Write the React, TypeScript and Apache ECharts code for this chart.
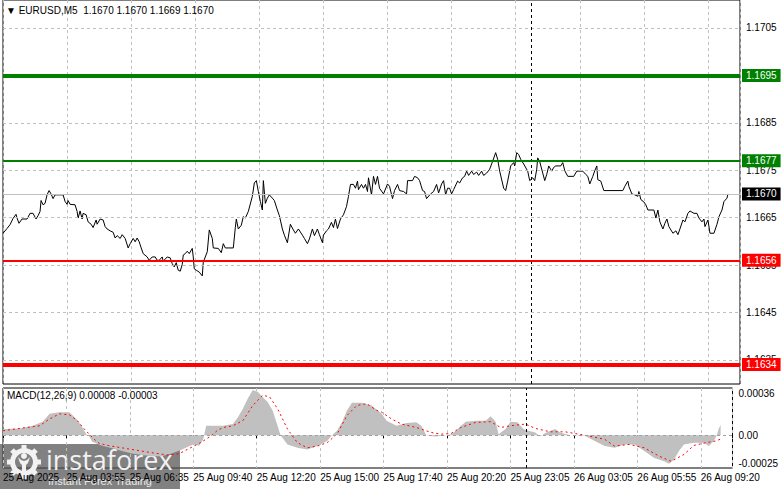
import React, { useEffect, useRef } from "react";
import * as echarts from "echarts";

const FONT = "Liberation Sans";

// header line
const symbolName = "EURUSD,M5";
const lastOhlc = [1.167, 1.167, 1.1669, 1.167];

// time axis, one label every 32 bars
const timeLabels = [
  "25 Aug 2025",
  "25 Aug 03:55",
  "25 Aug 06:35",
  "25 Aug 09:40",
  "25 Aug 12:20",
  "25 Aug 15:00",
  "25 Aug 17:40",
  "25 Aug 20:20",
  "25 Aug 23:05",
  "26 Aug 03:05",
  "26 Aug 05:55",
  "26 Aug 09:20",
];

// price scale
const priceTicks = [1.1635, 1.1645, 1.1655, 1.1665, 1.1675, 1.1685, 1.1695, 1.1705];
const resistanceLevels = [1.1695, 1.1677];
const supportLevels = [1.1656, 1.1634];
const lastClose = 1.167;
const markerBar = 264;

// close price per bar index
const closeLine: [number, number][] = [
  [0, 1.16617], [2, 1.16627], [3.5, 1.16635], [5, 1.16648], [6.5, 1.16657], [7, 1.16649], [8, 1.16638],
  [9.5, 1.16647], [12, 1.16647], [13.5, 1.16659], [15, 1.16659], [16.5, 1.16647], [17.5, 1.16654],
  [18.5, 1.16663], [19, 1.16686], [20, 1.16677], [21, 1.1668], [22, 1.16698], [23, 1.16707], [24, 1.167],
  [25, 1.1669], [26, 1.16698], [30, 1.16698], [31, 1.16684], [32, 1.16678], [32.5, 1.16686], [33.5, 1.16678],
  [36, 1.16677], [37, 1.16663], [37.5, 1.16649], [38.5, 1.16664], [39.5, 1.16647], [40, 1.16659],
  [41.5, 1.16656], [42.5, 1.16641], [44, 1.16636], [45, 1.16629], [46.5, 1.16645], [47, 1.16636],
  [48.5, 1.16647], [50, 1.16645], [51, 1.16631], [52, 1.16626], [53.5, 1.16622], [55, 1.16619],
  [56, 1.16607], [57, 1.16612], [58.5, 1.16606], [59.5, 1.16614], [61, 1.16606], [62.5, 1.16586],
  [63.5, 1.16595], [65, 1.16606], [66, 1.16599], [67, 1.16607], [68, 1.16599], [69, 1.16586], [70, 1.16574],
  [72, 1.16567], [73, 1.1656], [74.5, 1.16567], [76, 1.16567], [77, 1.1656], [78, 1.1656], [79.5, 1.16567],
  [80, 1.16558], [82, 1.16567], [83.5, 1.16565], [84.5, 1.16553], [85.5, 1.16546], [86.5, 1.16555],
  [87.5, 1.16539], [88.5, 1.16537], [89.5, 1.16551], [90, 1.16571], [91, 1.16574], [92, 1.16579],
  [93, 1.16574], [94.5, 1.16585], [95, 1.16567], [95.5, 1.16542], [96.5, 1.16539], [98, 1.16535],
  [99.5, 1.16527], [100, 1.16556], [102, 1.16578], [103, 1.16624], [104.5, 1.16606], [105, 1.16586],
  [107.5, 1.16585], [109, 1.16576], [110, 1.16595], [111, 1.16586], [115, 1.16586], [116, 1.16629],
  [116.5, 1.16647], [117.5, 1.16626], [119, 1.16634], [120, 1.16652], [121, 1.16649], [122.5, 1.16663],
  [124.5, 1.16695], [125.5, 1.16723], [126.5, 1.16728], [127.5, 1.16705], [128.5, 1.16684], [129.5, 1.16666],
  [130, 1.16728], [131, 1.1668], [132, 1.16691], [133, 1.16698], [134.5, 1.16691], [135.5, 1.16686],
  [137, 1.16666], [138, 1.16654], [139.5, 1.16626], [140.5, 1.16613], [142, 1.16597], [143.5, 1.16636],
  [145, 1.16624], [146, 1.16617], [147.5, 1.16626], [149.5, 1.16613], [150.5, 1.16606], [152, 1.16595],
  [153, 1.16605], [154.5, 1.16626], [155.5, 1.16612], [157, 1.16626], [158, 1.16614], [159.5, 1.16597],
  [160, 1.16613], [161.5, 1.16622], [162.5, 1.16626], [164, 1.1664], [165, 1.16629], [166, 1.16647],
  [167, 1.16627], [168.5, 1.16647], [170, 1.16656], [171.5, 1.16673], [172.5, 1.16695], [173.5, 1.1672],
  [175, 1.1672], [176, 1.16712], [177, 1.16727], [177.5, 1.16709], [179, 1.1672], [180, 1.16712],
  [181, 1.1672], [182, 1.16705], [182.5, 1.16734], [184, 1.16698], [185, 1.16737], [186, 1.1672],
  [187, 1.16737], [188, 1.16712], [190, 1.167], [192, 1.16721], [193, 1.16716], [194.5, 1.1669],
  [195.5, 1.16707], [197, 1.1672], [198, 1.16707], [200, 1.16705], [201.5, 1.167], [202, 1.16728],
  [204.5, 1.16728], [205.5, 1.16737], [207, 1.16734], [208, 1.16728], [209.5, 1.16707], [210.5, 1.16705],
  [211.5, 1.1669], [213.5, 1.167], [215, 1.16705], [216.5, 1.1672], [217.5, 1.16702], [219, 1.16721],
  [220, 1.16728], [221, 1.16698], [222, 1.16712], [223, 1.16712], [224, 1.167], [225, 1.16709],
  [227, 1.16727], [228, 1.16723], [229.5, 1.16734], [230.5, 1.16737], [231.5, 1.16748], [232.5, 1.16739],
  [234, 1.16748], [235, 1.16741], [236.5, 1.16746], [237.5, 1.16739], [239, 1.16748], [240, 1.16739],
  [241.5, 1.16744], [243, 1.16752], [244.5, 1.16769], [246, 1.16787], [247, 1.16773], [248, 1.16748],
  [250, 1.16712], [251, 1.16707], [252, 1.16727], [253.5, 1.16759], [255, 1.16766], [255.5, 1.16759],
  [256.5, 1.16787], [257.5, 1.16783], [258.5, 1.16773], [260, 1.16763], [262, 1.16748], [263, 1.16728],
  [264.5, 1.16734], [265.5, 1.16728], [266.5, 1.16752], [267, 1.16776], [268, 1.16768], [269.5, 1.16744],
  [270.5, 1.16728], [271.5, 1.16741], [272.5, 1.16759], [274, 1.16748], [275, 1.16756], [276, 1.16759],
  [278.5, 1.16759], [279.5, 1.16766], [280.5, 1.16749], [282, 1.16737], [285, 1.16737], [286.5, 1.16748],
  [289.5, 1.16748], [291, 1.16741], [292, 1.16737], [293, 1.16721], [294.5, 1.16737], [295.5, 1.16749],
  [296.5, 1.16759], [297, 1.1673], [298.5, 1.16727], [300, 1.16707], [309.5, 1.16707], [310.5, 1.16716],
  [312, 1.16727], [312.5, 1.16716], [314, 1.167], [315.5, 1.16698], [317, 1.16695], [317.5, 1.16705],
  [318.5, 1.16688], [320, 1.16683], [321, 1.16677], [322, 1.16666], [325, 1.16666], [326, 1.16649],
  [327, 1.16666], [328, 1.16641], [329.5, 1.16626], [330.5, 1.16638], [331.5, 1.16647], [332.5, 1.16631],
  [334.5, 1.16617], [336, 1.16622], [337, 1.16614], [338, 1.16626], [339.5, 1.16645], [340.5, 1.16641],
  [342, 1.16659], [343, 1.16664], [345, 1.16659], [346.5, 1.16659], [347.5, 1.16649], [349, 1.16641],
  [350, 1.16647], [350.5, 1.16631], [352, 1.16645], [353, 1.16617], [355, 1.16617], [356.5, 1.16636],
  [357.5, 1.16652], [359, 1.16666], [360, 1.16684], [361.5, 1.16691], [362, 1.167],
];

// MACD(12,26,9)
const macdParams = [12, 26, 9];
const macdLast = [0.00008, -0.00003];
const macdTicks = [-0.00025, 0, 0.00036];

const macdHist: [number, number][] = [
  [0, 4.7e-5], [8.5, 5.2e-5], [15, 7.2e-5], [20, 10.3e-5], [23.5, 16.3e-5], [28.5, 17.6e-5], [33.5, 17.6e-5],
  [37, 12.4e-5], [39.5, 7.2e-5], [42, 0.8e-5], [43.5, -1e-5], [45, -5e-5], [50, -8e-5], [55, -10e-5],
  [60, -12e-5], [65, -14e-5], [70, -15e-5], [75, -16e-5], [80, -16e-5], [85, -14e-5], [90, -11e-5],
  [93, -9e-5], [96, -7e-5], [99, -8e-5], [101, -3e-5], [102.5, 7.2e-5], [106, 7.2e-5], [111, 7.2e-5],
  [116, 8.5e-5], [118.5, 13.7e-5], [121, 20.2e-5], [123.5, 27.9e-5], [126, 34.4e-5], [128.5, 33.1e-5],
  [131, 29.2e-5], [133.5, 25.3e-5], [136, 18.9e-5], [138.5, 7.2e-5], [140, 0], [143.5, -7e-5],
  [148.5, -9.6e-5], [153.5, -10.9e-5], [158.5, -8.3e-5], [163.5, -4.4e-5], [166, 0], [168.5, 3.4e-5],
  [171, 9.8e-5], [173.5, 18.9e-5], [176, 24.8e-5], [181, 24.8e-5], [186, 22.7e-5], [191, 16.3e-5],
  [193.5, 11.1e-5], [198.5, 7.2e-5], [203.5, 9.3e-5], [208.5, 9.8e-5], [211, 7.2e-5], [213.5, 0],
  [217.5, -1e-5], [222.5, -0.5e-5], [226, 0.8e-5], [228.5, 3.4e-5], [231, 7.2e-5], [233.5, 10.3e-5],
  [238.5, 11.1e-5], [243.5, 11.1e-5], [246, 14.5e-5], [248.5, 10.3e-5], [250, 0.8e-5], [253.5, 4.7e-5],
  [256, 10.3e-5], [259.5, 9.8e-5], [262.5, 4.7e-5], [265, 3.4e-5], [268.5, 2.1e-5], [271, -1e-5],
  [273.5, 1.6e-5], [278.5, 4.7e-5], [281, 2.1e-5], [286, 0], [293.5, -0.5e-5], [298.5, -4.4e-5],
  [303.5, -8.3e-5], [308.5, -9.6e-5], [313.5, -7e-5], [318.5, -7e-5], [323.5, -12.1e-5], [328.5, -17.3e-5],
  [333.5, -19.9e-5], [336, -21.7e-5], [338.5, -18.6e-5], [341, -12.1e-5], [343.5, -7e-5], [348.5, -5.7e-5],
  [353.5, -5.7e-5], [356, -8.3e-5], [358.5, -4.4e-5], [360, -0.5e-5], [361, 4.7e-5], [362, 8e-5],
];

const macdSignal: [number, number][] = [
  [0, 3.4e-5], [8.5, 5.2e-5], [18.5, 7.2e-5], [23.5, 12.4e-5], [28.5, 16.3e-5], [33.5, 15.5e-5],
  [37.5, 11.1e-5], [41, 4.7e-5], [46, -3.1e-5], [48.5, -6.2e-5], [53.5, -8e-5], [63.5, -10.5e-5],
  [73.5, -13e-5], [83.5, -15.2e-5], [89, -14e-5], [91, -12.4e-5], [96, -8.5e-5], [99, -6.2e-5],
  [101, -4.4e-5], [105, -0.5e-5], [108, 3.5e-5], [111, 5.9e-5], [116, 7.2e-5], [121, 11.1e-5],
  [126, 22.7e-5], [131, 30.5e-5], [134.5, 29.2e-5], [138.5, 20.2e-5], [143.5, 4.7e-5], [148.5, -5.7e-5],
  [153.5, -9.6e-5], [158.5, -8.3e-5], [163.5, -5.7e-5], [168.5, 0.8e-5], [173.5, 15e-5], [178.5, 22.7e-5],
  [183.5, 24e-5], [188.5, 18.9e-5], [191, 17.6e-5], [196, 12.4e-5], [201, 8.5e-5], [208.5, 5.9e-5],
  [216, 2.1e-5], [221, 0.8e-5], [226, 1.3e-5], [231, 5.9e-5], [238.5, 9.8e-5], [246, 10.3e-5],
  [251, 5.9e-5], [256, 7.2e-5], [263.5, 8.5e-5], [268.5, 5.2e-5], [276, 2.6e-5], [283.5, 2.6e-5],
  [293.5, 0], [303.5, -3.1e-5], [308.5, -8.3e-5], [316, -7e-5], [323.5, -9.6e-5], [331, -16e-5],
  [337, -19.9e-5], [343.5, -14.7e-5], [348.5, -7.8e-5], [354.5, -5.7e-5], [359.5, -4.4e-5], [362, -3e-5],
];

const BARS = 368;
const LABEL_STEP = 32;
const GRID_DASH = { color: "#c0c0c0", type: [3, 3], width: 1 };
const HIDDEN_LINE = { opacity: 0, width: 0 };

const levelLine = (value: number, color: string, width: number) => ({
  yAxis: value,
  lineStyle: { color, width, type: "solid" },
  label: {
    position: "end",
    distance: 2,
    formatter: value.toFixed(4),
    color: "#fff",
    backgroundColor: color,
    padding: [2, 4, 1, 4],
    fontSize: 10,
    fontFamily: FONT,
  },
});

const buildOption = () => ({
  animation: false,
  backgroundColor: "#fff",
  textStyle: { fontFamily: FONT },
  title: [
    {
      text: `▼ ${symbolName}  ${lastOhlc.map((v) => v.toFixed(4)).join(" ")}`,
      left: 6,
      top: 5,
      padding: 0,
      textStyle: { fontSize: 10, fontWeight: "normal", color: "#000", fontFamily: FONT },
    },
    {
      text: `MACD(${macdParams.join(",")}) ${macdLast.map((v) => v.toFixed(5)).join(" ")}`,
      left: 7,
      top: 390,
      padding: 0,
      textStyle: { fontSize: 10, fontWeight: "normal", color: "#000", fontFamily: FONT },
    },
  ],
  grid: [
    { left: 3, right: 41, top: 0, height: 384, show: true, borderColor: "#000", borderWidth: 1 },
    { left: 3, right: 41, top: 388, height: 80, show: true, borderColor: "#000", borderWidth: 1 },
  ],
  xAxis: [
    {
      type: "value",
      gridIndex: 0,
      min: 0,
      max: BARS,
      interval: LABEL_STEP,
      axisLine: { show: false },
      axisTick: { show: false },
      axisLabel: { show: false },
      splitLine: { show: true, lineStyle: GRID_DASH },
    },
    {
      type: "value",
      gridIndex: 1,
      min: 0,
      max: BARS,
      interval: LABEL_STEP,
      axisLine: { show: false },
      axisTick: { show: true, length: 3, lineStyle: { color: "#000" } },
      axisLabel: {
        show: true,
        margin: 4,
        align: "left",
        color: "#000",
        fontSize: 10,
        fontFamily: FONT,
        formatter: (v: number) => {
          const i = v / LABEL_STEP;
          return Number.isInteger(i) && timeLabels[i] ? timeLabels[i] : "";
        },
      },
      splitLine: { show: true, lineStyle: GRID_DASH },
    },
  ],
  yAxis: [
    {
      type: "value",
      gridIndex: 0,
      position: "right",
      min: 1.16299,
      max: 1.17109,
      axisLine: { show: false },
      axisTick: { show: false },
      axisLabel: { show: false },
      splitLine: { show: false },
    },
    {
      type: "value",
      gridIndex: 1,
      position: "right",
      min: macdTicks[0],
      max: macdTicks[2],
      interval: 0.00025,
      axisLine: { show: false },
      axisTick: { show: false },
      splitLine: { show: false },
      axisLabel: {
        margin: 6,
        color: "#000",
        fontSize: 10,
        fontFamily: FONT,
        showMinLabel: true,
        showMaxLabel: true,
        verticalAlignMaxLabel: "top",
        verticalAlignMinLabel: "bottom",
        formatter: (v: number) => {
          if (Math.abs(v) < 1e-9) return "0.00";
          return macdTicks.some((t) => Math.abs(t - v) < 1e-9) ? v.toFixed(5) : "";
        },
      },
    },
  ],
  series: [
    {
      // price grid lines + current price line, drawn under the price
      name: "grid",
      type: "line",
      xAxisIndex: 0,
      yAxisIndex: 0,
      data: closeLine,
      showSymbol: false,
      silent: true,
      lineStyle: HIDDEN_LINE,
      z: 1,
      markLine: {
        silent: true,
        precision: 5,
        symbol: ["none", "none"],
        animation: false,
        lineStyle: GRID_DASH,
        label: {
          position: "end",
          distance: 6,
          color: "#000",
          fontSize: 10,
          fontFamily: FONT,
          formatter: (p: any) => Number(p.value).toFixed(4),
        },
        data: [
          ...priceTicks.map((v) => ({ yAxis: v })),
          {
            yAxis: lastClose,
            lineStyle: { color: "#c0c0c0", type: "solid", width: 1 },
            label: {
              distance: 2,
              color: "#fff",
              backgroundColor: "#000",
              padding: [2, 4, 1, 4],
            },
          },
        ],
      },
    },
    {
      name: symbolName,
      type: "line",
      xAxisIndex: 0,
      yAxisIndex: 0,
      data: closeLine,
      showSymbol: false,
      z: 3,
      lineStyle: { color: "#000", width: 1 },
      markLine: {
        silent: true,
        symbol: ["none", "none"],
        animation: false,
        label: { show: false },
        lineStyle: { color: "#000", type: [3, 3], width: 1 },
        data: [{ xAxis: markerBar }],
      },
    },
    {
      // support / resistance levels
      name: "levels",
      type: "line",
      xAxisIndex: 0,
      yAxisIndex: 0,
      data: closeLine,
      showSymbol: false,
      silent: true,
      lineStyle: HIDDEN_LINE,
      z: 5,
      markLine: {
        silent: true,
        precision: 5,
        symbol: ["none", "none"],
        animation: false,
        data: [
          levelLine(resistanceLevels[0], "#008000", 4),
          levelLine(resistanceLevels[1], "#008000", 2),
          levelLine(supportLevels[0], "#ff0000", 2),
          levelLine(supportLevels[1], "#ff0000", 4),
        ],
      },
    },
    {
      name: "MACD",
      type: "line",
      xAxisIndex: 1,
      yAxisIndex: 1,
      data: macdHist,
      showSymbol: false,
      z: 2,
      lineStyle: { width: 0, color: "#c0c0c0" },
      itemStyle: { color: "#c0c0c0" },
      areaStyle: { color: "#c0c0c0", opacity: 1, origin: "auto" },
      markLine: {
        silent: true,
        precision: 6,
        symbol: ["none", "none"],
        animation: false,
        label: { show: false },
        data: [
          { yAxis: 0, lineStyle: { color: "#a0a0a0", type: [3, 3], width: 1 } },
          { xAxis: markerBar, lineStyle: { color: "#000", type: [3, 3], width: 1 } },
        ],
      },
    },
    {
      name: "Signal",
      type: "line",
      xAxisIndex: 1,
      yAxisIndex: 1,
      data: macdSignal,
      showSymbol: false,
      z: 3,
      lineStyle: { color: "#ff0000", width: 1, type: [2, 3] },
    },
  ],
  graphic: [
    {
      type: "group",
      x: 0,
      y: 444,
      z: 100,
      children: [
        {
          type: "rect",
          shape: { x: 0, y: 0, width: 180, height: 45 },
          style: { fill: "rgba(80,80,80,0.72)" },
        },
        {
          type: "ring",
          shape: { cx: 24, cy: 18, r: 14, r0: 9 },
          style: { fill: "#f2f2f2" },
        },
        ...[0, 45, 90, 135, 180, 225, 270, 315].map((deg) => ({
          type: "rect",
          x: 24,
          y: 18,
          rotation: (deg * Math.PI) / 180,
          shape: { x: -2.5, y: -17, width: 5, height: 5 },
          style: { fill: "#f2f2f2" },
        })),
        {
          type: "circle",
          shape: { cx: 24, cy: 12, r: 3 },
          style: { fill: "#f2f2f2" },
        },
        {
          type: "polygon",
          shape: {
            points: [
              [18, 13], [21, 16], [24, 17], [27, 16], [30, 13], [28, 19], [26, 21],
              [26, 29], [22, 29], [22, 21], [20, 19],
            ],
          },
          style: { fill: "#f2f2f2" },
        },
        {
          type: "text",
          x: 46,
          y: 15,
          style: {
            text: "instaforex",
            fill: "#f2f2f2",
            fontSize: 27,
            fontFamily: "Open Sans",
            verticalAlign: "middle",
            align: "left",
          },
        },
        {
          type: "text",
          x: 48,
          y: 37,
          style: {
            text: "Instant Forex Trading",
            fill: "#eaeaea",
            fontSize: 11,
            fontFamily: FONT,
            verticalAlign: "middle",
            align: "left",
          },
        },
      ],
    },
  ],
});

const App: React.FC = () => {
  const chartRef = useRef<HTMLDivElement>(null);

  useEffect(() => {
    if (!chartRef.current) return;
    const chart = echarts.init(chartRef.current, undefined, { renderer: "svg" });
    chart.setOption(buildOption() as any);
    return () => {
      chart.dispose();
    };
  }, []);

  return (
    <div
      ref={chartRef}
      style={{ position: "fixed", left: 0, top: 0, width: 781, height: 489, background: "#fff" }}
    />
  );
};

export default App;
